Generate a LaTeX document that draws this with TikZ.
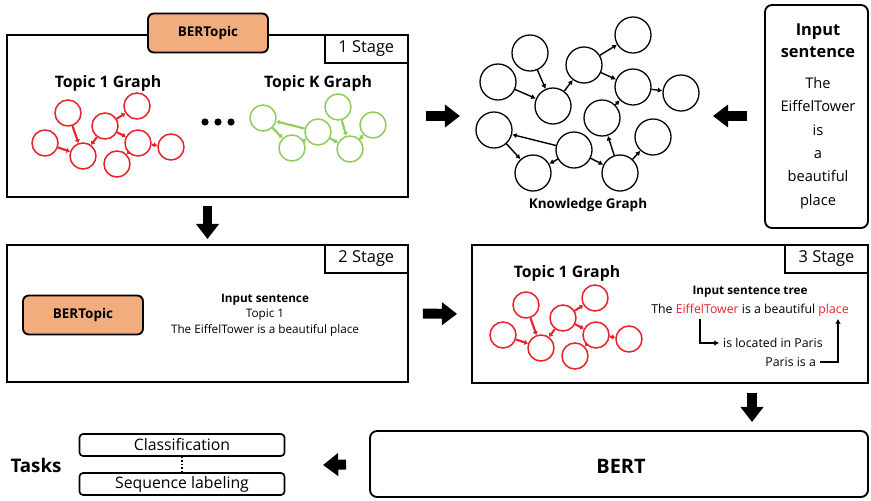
\documentclass[tikz,border=0pt]{standalone}
\usepackage{fontspec}
\setmainfont{Open Sans}
\usetikzlibrary{arrows.meta,positioning,fit}

\definecolor{topicorange}{HTML}{F2AD7E}
\definecolor{topicred}{HTML}{E8232B}
\definecolor{topicgreen}{HTML}{8FCC5C}

\tikzset{
  stagebox/.style={draw, line width=1.6pt, inner sep=0pt},
  stagetab/.style={draw, fill=white, line width=1.6pt, anchor=north east,
    minimum width=2.5cm, minimum height=0.84cm, font=\fontsize{14}{16}\selectfont},
  bertopic/.style={draw, fill=topicorange, rounded corners=5pt, line width=1.6pt,
    minimum width=3.6cm, minimum height=1.17cm, font=\bfseries\fontsize{11.5}{13}\selectfont},
  roundbox/.style={draw, rounded corners=6pt, line width=1.6pt, inner sep=0pt},
  taskbox/.style={draw, rounded corners=3pt, line width=1.4pt, minimum width=6.15cm,
    minimum height=0.66cm, inner sep=0pt, font=\fontsize{13.5}{15}\selectfont},
  graphtitle/.style={font=\bfseries\fontsize{13.5}{15}\selectfont},
  rednode/.style={circle, draw=topicred, line width=1.3pt, minimum size=0.78cm, inner sep=0pt},
  greennode/.style={circle, draw=topicgreen, line width=1.3pt, minimum size=0.78cm, inner sep=0pt},
  kgnode/.style={circle, draw, line width=1.1pt, minimum size=1.08cm, inner sep=0pt},
  redlink/.style={topicred, line width=1.8pt, -{Latex[length=3pt,width=5pt]}},
  greenlink/.style={topicgreen, line width=1.8pt, -{Latex[length=3pt,width=5pt]}},
  kglink/.style={line width=1.2pt, -{Latex[length=4pt,width=4.5pt]}},
  blockarrow/.style={line width=8.5pt, -{Triangle[length=13pt,width=19pt]}},
  treearrow/.style={line width=1.2pt, -{Latex[length=4pt,width=5pt]}},
}

% one topic graph, #1 = prefix of the node names
\newcommand{\redgraph}[1]{%
  \node[rednode] (#1a) at (68,113) {};
  \node[rednode] (#1b) at (45,143) {};
  \node[rednode] (#1c) at (83,156) {};
  \node[rednode] (#1d) at (105,126) {};
  \node[rednode] (#1e) at (137,106) {};
  \node[rednode] (#1f) at (138,143) {};
  \node[rednode] (#1g) at (117,164) {};
  \node[rednode] (#1h) at (171,147) {};
  \foreach \s/\t in {a/c,b/c,d/c,d/e,d/f,f/g,f/h}
    \draw[redlink] (#1\s) -- (#1\t);
}

\begin{document}
\begin{tikzpicture}[x=0.03cm,y=-0.03cm]
\useasboundingbox (0,0) rectangle (871,500);

% input sentence
\node[roundbox, fit={(765,5) (868,228)}] (inbox) {};
\node[font=\bfseries\fontsize{14}{19}\selectfont, align=center] (intitle) at (818,41) {Input\\sentence};
\node[font=\fontsize{12.5}{20}\selectfont, align=center] (inwords) at (818,143)
  {The\\EiffelTower\\is\\a\\beautiful\\place};

% knowledge graph
\node[kgnode] (kga) at (633,35) {};
\node[kgnode] (kgb) at (530,53) {};
\node[kgnode] (kgc) at (584,65) {};
\node[kgnode] (kgd) at (498,82) {};
\node[kgnode] (kge) at (633,87) {};
\node[kgnode] (kgf) at (681,93) {};
\node[kgnode] (kgg) at (553,106) {};
\node[kgnode] (kgh) at (602,118) {};
\node[kgnode] (kgi) at (494,130) {};
\node[kgnode] (kgj) at (574,150) {};
\node[kgnode] (kgk) at (653,137) {};
\node[kgnode] (kgl) at (533,173) {};
\node[kgnode] (kgm) at (620,173) {};
\foreach \s/\t in {c/a,b/g,d/g,g/c,c/e,e/f,h/e,j/i,i/l,j/l,j/m,m/h,m/k}
  \draw[kglink] (kg\s) -- (kg\t);
\node[font=\bfseries\fontsize{11.5}{13}\selectfont] (kglabel) at (588,205) {Knowledge Graph};
\coordinate (kgwest) at (476,116);
\coordinate (kgeast) at (700,116);

% 1 stage
\node[stagebox, fit={(7,35) (408,197)}] (stage1) {};
\node[stagetab] (tab1) at (stage1.north east) {1 Stage};
\node[bertopic] (bert1) at (208,33) {BERTopic};
\node[graphtitle] (title1) at (108,83) {Topic 1 Graph};
\node[graphtitle] (titlek) at (318,83) {Topic K Graph};
\redgraph{ra}
\foreach \i in {0,1,2}
  \fill (205+13*\i,122) circle (3.6);
\node[greennode] (ga) at (263,118) {};
\node[greennode] (gb) at (292,148) {};
\node[greennode] (gc) at (318,132) {};
\node[greennode] (gd) at (338,107) {};
\node[greennode] (ge) at (350,149) {};
\node[greennode] (gf) at (373,125) {};
\foreach \s/\t in {gc/ga,ga/gb,gb/gc,gc/ge,gd/ge,ge/gf}
  \draw[greenlink] (\s) -- (\t);

% 2 stage
\node[stagebox, fit={(7,245) (408,382)}] (stage2) {};
\node[stagetab] (tab2) at (stage2.north east) {2 Stage};
\node[bertopic] (bert2) at (83,315) {BERTopic};
\node[align=center, font=\fontsize{10}{13}\selectfont] (sent2) at (265,315)
  {\textbf{Input sentence}\\Topic 1\\The EiffelTower is a beautiful place};

% 3 stage
\node[stagebox, fit={(472,245) (868,383)}] (stage3) {};
\node[stagetab, minimum width=2.49cm] (tab3) at (stage3.north east) {3 Stage};
\node[graphtitle] (title3) at (567,273) {Topic 1 Graph};
\begin{scope}[shift={(458,192)}]
  \redgraph{rb}
\end{scope}
\node[font=\bfseries\fontsize{10}{12}\selectfont] (treetitle) at (750,292) {Input sentence tree};
\node[font=\fontsize{10.5}{12}\selectfont] (tree) at (750,310)
  {The \textcolor{topicred}{EiffelTower} is a beautiful \textcolor{topicred}{place}};
\node[font=\fontsize{10.5}{12}\selectfont, anchor=west] (located) at (719,343) {is located in Paris};
\node[font=\fontsize{10.5}{12}\selectfont, anchor=east] (parisis) at (820,362) {Paris is a};
\coordinate (eiffelfoot) at (700,319);
\coordinate (placefoot) at (838,319);
\draw[treearrow] (eiffelfoot) |- (located.west);
\draw[treearrow] (parisis.east) -| (placefoot);

% BERT and tasks
\node[roundbox, fit={(370,431) (868,497)}] (bert) {};
\node[font=\bfseries\fontsize{17}{19}\selectfont] (berttext) at (621,466) {BERT};
\node[font=\bfseries\fontsize{16}{18}\selectfont] (tasks) at (36,465) {Tasks};
\node[taskbox] (classif) at (182,445) {Classification};
\node[taskbox] (seqlab) at (182,484) {Sequence labeling};
\draw[dotted, line width=1pt] (classif) -- (seqlab);
\coordinate (tasksend) at (323,465);

% big arrows
\draw[blockarrow, shorten <=0.51cm, shorten >=0.39cm] (inbox.west |- kgeast) -- (kgeast);
\draw[blockarrow, shorten <=0.51cm, shorten >=0.48cm] (stage1.east |- kgwest) -- (kgwest);
\draw[blockarrow, shorten <=0.24cm, shorten >=0.15cm] (stage1.south) -- (stage2.north);
\draw[blockarrow, shorten <=0.42cm, shorten >=0.42cm] (stage2.east) -- (stage3.west);
\draw[blockarrow, shorten <=0.27cm, shorten >=0.24cm] (stage3.south -| 752,0) -- (bert.north -| 752,0);
\draw[blockarrow, shorten <=0.69cm] (bert.west) -- (tasksend);
\end{tikzpicture}
\end{document}
